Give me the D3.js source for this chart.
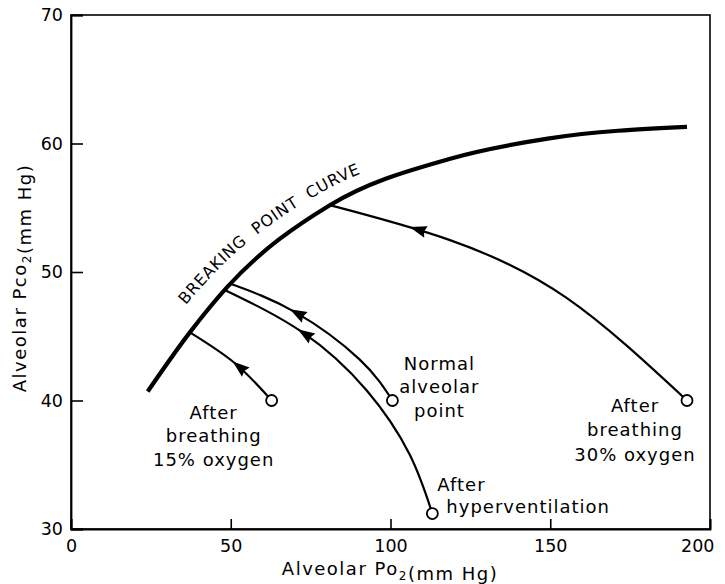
<!DOCTYPE html>
<html>
<head>
<meta charset="utf-8">
<script src="https://cdn.jsdelivr.net/npm/d3@7"></script>
<style>
  body { margin: 0; background: #fff; }
  text { font-family: "DejaVu Sans", sans-serif; fill: #000; }
</style>
</head>
<body>
<svg id="chart" width="725" height="584"></svg>
<script>
// Axis ticks
const xTicks = [0, 50, 100, 150, 200];
const yTicks = [30, 40, 50, 60, 70];

// Breaking point curve (alveolar PO2, PCO2 in mm Hg)
const breakingX = [24, 37.2, 48.8, 81, 118.4, 149.7, 192.8];
const breakingY = [40.7, 45.3, 48.8, 55.2, 58.8, 60.4, 61.3];

// Breath-hold paths, each from its starting point to the breaking point curve
const oxy15X = [62.8, 51.3, 37.2];
const oxy15Y = [40.0, 42.9, 45.3];
const normalX = [100.6, 90.3, 70, 49.7];
const normalY = [40.0, 43.2, 46.9, 49.1];
const hyperX = [113.1, 106, 92.5, 72.5, 48.1];
const hyperY = [31.2, 35.8, 40.8, 45.3, 48.6];
const oxy30X = [192.8, 155, 118.4, 81];
const oxy30Y = [40.0, 48.0, 52.5, 55.2];

// PO2 at which each arrowhead tip sits
const arrowAt = { oxy15: 50.6, normal: 68.5, hyper: 71, oxy30: 106 };

const W = 725, H = 584;
const margin = { left: 71, right: 15, top: 15, bottom: 55 };

const svg = d3.select("#chart");
const x = d3.scaleLinear().domain([0, 200]).range([margin.left, W - margin.right]);
const y = d3.scaleLinear().domain([30, 70]).range([H - margin.bottom, margin.top]);

const zip = (xs, ys) => xs.map((v, i) => [v, ys[i]]);
const line = d3.line().x(d => x(d[0])).y(d => y(d[1])).curve(d3.curveNatural);
const curveLine = d3.line().x(d => x(d[0])).y(d => y(d[1])).curve(d3.curveMonotoneX);

// Frame
svg.append("rect")
  .attr("x", x(0)).attr("y", y(70))
  .attr("width", x(200) - x(0)).attr("height", y(30) - y(70))
  .attr("fill", "none").attr("stroke", "#000").attr("stroke-width", 1.6);

// Axes with inward ticks
const xAxis = svg.append("g")
  .attr("transform", `translate(0,${y(30)})`)
  .call(d3.axisBottom(x).tickValues(xTicks).tickSize(-10).tickPadding(11).tickFormat(d3.format("d")));
const yAxis = svg.append("g")
  .attr("transform", `translate(${x(0)},0)`)
  .call(d3.axisLeft(y).tickValues(yTicks).tickSize(-12).tickPadding(8).tickFormat(d3.format("d")));
[xAxis, yAxis].forEach(g => {
  g.select(".domain").attr("stroke", "#000").attr("stroke-width", 1.8);
  g.selectAll(".tick line").attr("stroke", "#000").attr("stroke-width", 1.6);
  g.selectAll(".tick text").style("font-family", "'DejaVu Sans', sans-serif")
    .style("font-size", "17.5px").attr("fill", "#000");
});
// keep the last x tick label inside the canvas
xAxis.selectAll(".tick text").filter(d => d === 200).attr("text-anchor", "end").attr("dx", 4);

// Axis titles with subscripts
function subLabel(sel, parts) {
  parts.forEach(p => {
    if (p.sub) {
      sel.append("tspan").attr("font-size", 12).attr("dy", 5).text(p.t);
      sel.append("tspan").attr("dy", -5).text("");
    } else {
      sel.append("tspan").text(p.t);
    }
  });
}
const xTitle = svg.append("text")
  .attr("x", 390).attr("y", 575).attr("text-anchor", "middle")
  .style("font-size", "18px").style("letter-spacing", "1.5px");
subLabel(xTitle, [{ t: "Alveolar Po" }, { t: "2", sub: true }, { t: "(mm Hg)" }]);

const yTitle = svg.append("text")
  .attr("transform", `translate(26,${(y(30) + y(70)) / 2 + 6}) rotate(-90)`)
  .attr("text-anchor", "middle")
  .style("font-size", "18px").style("letter-spacing", "1.5px");
subLabel(yTitle, [{ t: "Alveolar Pco" }, { t: "2", sub: true }, { t: "(mm Hg)" }]);

// Breaking point curve
const breakPath = svg.append("path")
  .attr("d", curveLine(zip(breakingX, breakingY)))
  .attr("fill", "none").attr("stroke", "#000").attr("stroke-width", 4.2)
  .attr("stroke-linecap", "butt");

// Length along a path where its x coordinate reaches px (x monotonic along path)
function lengthAtX(node, px) {
  const L = node.getTotalLength();
  let lo = 0, hi = L;
  const inc = node.getPointAtLength(L).x > node.getPointAtLength(0).x;
  for (let i = 0; i < 40; i++) {
    const mid = (lo + hi) / 2;
    const p = node.getPointAtLength(mid);
    if ((p.x < px) === inc) lo = mid; else hi = mid;
  }
  return (lo + hi) / 2;
}

// Curve label set along the upper side of the breaking point curve
(function () {
  const node = breakPath.node();
  const L0 = lengthAtX(node, x(40.8)), L1 = lengthAtX(node, x(92.4));
  const pts = [];
  const n = 60;
  for (let i = 0; i <= n; i++) {
    const s = L0 + (L1 - L0) * i / n;
    const a = node.getPointAtLength(Math.max(0, s - 1));
    const b = node.getPointAtLength(s + 1);
    const p = node.getPointAtLength(s);
    const dx = b.x - a.x, dy = b.y - a.y, len = Math.hypot(dx, dy);
    const off = 20 - 6 * i / n;
    pts.push([p.x + off * dy / len, p.y - off * dx / len]);
  }
  svg.append("defs").append("path").attr("id", "bpcBase")
    .attr("d", d3.line().curve(d3.curveBasis)(pts));
  const baseLen = document.getElementById("bpcBase").getTotalLength();
  svg.append("text")
    .style("font-size", "16px").attr("xml:space", "preserve").style("white-space", "pre")
    .append("textPath").attr("href", "#bpcBase")
    .attr("textLength", baseLen).attr("lengthAdjust", "spacing")
    .text("BREAKING  POINT  CURVE");
})();

// Breath-hold paths with arrowheads and start markers
const series = [
  { key: "oxy15", pts: zip(oxy15X, oxy15Y) },
  { key: "normal", pts: zip(normalX, normalY) },
  { key: "hyper", pts: zip(hyperX, hyperY) },
  { key: "oxy30", pts: zip(oxy30X, oxy30Y) }
];
series.forEach(s => {
  const p = svg.append("path").attr("d", line(s.pts))
    .attr("fill", "none").attr("stroke", "#000").attr("stroke-width", 2.2);
  const node = p.node();
  const L = lengthAtX(node, x(arrowAt[s.key]));
  const tip = node.getPointAtLength(L);
  const back = node.getPointAtLength(Math.max(0, L - 3));
  const ang = Math.atan2(tip.y - back.y, tip.x - back.x);
  const len = 17, hw = 6;
  const ca = Math.cos(ang), sa = Math.sin(ang);
  const bx = tip.x - len * ca, by = tip.y - len * sa;
  svg.append("path")
    .attr("d", `M${tip.x},${tip.y}L${bx - hw * sa},${by + hw * ca}L${bx + 2 * ca},${by + 2 * sa}L${bx + hw * sa},${by - hw * ca}Z`)
    .attr("fill", "#000");
  svg.append("circle")
    .attr("cx", x(s.pts[0][0])).attr("cy", y(s.pts[0][1])).attr("r", 5.5)
    .attr("fill", "#fff").attr("stroke", "#000").attr("stroke-width", 1.8);
});

// Point labels, placed relative to each start marker
const labelLayout = [
  { key: "oxy15", lines: ["After", "breathing", "15% oxygen"], dx: -58, dy: 18, anchor: "middle", lh: 23.5 },
  { key: "normal", lines: ["Normal", "alveolar", "point"], dx: 47, dy: -31, anchor: "middle", lh: 23.5 },
  { key: "oxy30", lines: ["After", "breathing", "30% oxygen"], dx: -52, dy: 11, anchor: "middle", lh: 24.5 }
];
labelLayout.forEach(l => {
  const s = series.find(d => d.key === l.key);
  const cx = x(s.pts[0][0]), cy = y(s.pts[0][1]);
  const t = svg.append("text").attr("text-anchor", l.anchor)
    .style("font-size", "18px").style("letter-spacing", "1px");
  l.lines.forEach((txt, i) => {
    t.append("tspan").attr("x", cx + l.dx).attr("y", cy + l.dy + i * l.lh).text(txt);
  });
});
(function () {
  const s = series.find(d => d.key === "hyper");
  const cx = x(s.pts[0][0]), cy = y(s.pts[0][1]);
  const t = svg.append("text").style("font-size", "18px").style("letter-spacing", "1px");
  t.append("tspan").attr("x", cx + 5).attr("y", cy - 23).text("After");
  t.append("tspan").attr("x", cx + 14).attr("y", cy - 1).text("hyperventilation");
})();
</script>
</body>
</html>
